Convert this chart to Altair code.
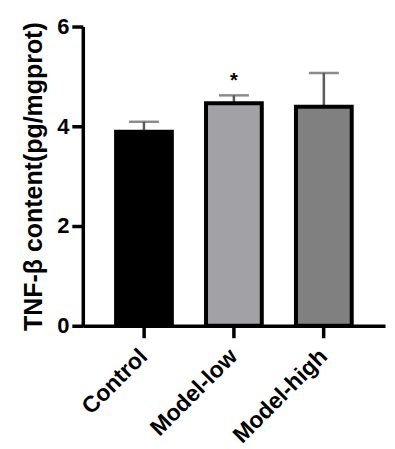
import altair as alt
import pandas as pd

groups = ["Control", "Model-low", "Model-high"]
means = [3.89, 4.46, 4.39]
err_top = [4.09, 4.62, 5.07]
fills = ["#000000", "#a2a2a6", "#808080"]
sig = ["", "*", ""]
sig_y = [0, 4.91, 0]

df = pd.DataFrame({"group": groups, "mean": means, "top": err_top,
                   "fill": fills, "sig": sig, "sig_y": sig_y})

FONT = "Liberation Sans"

x = alt.X("group:N", sort=groups, title=None,
          scale=alt.Scale(paddingInner=0.38, paddingOuter=0.37),
          axis=alt.Axis(labelAngle=-45, labelFont=FONT, labelFontSize=23,
                        labelFontWeight="bold", labelColor="black",
                        labelAlign="right", labelBaseline="top",
                        labelPadding=7, labelOffset=-8,
                        domainColor="black", domainWidth=3.5,
                        tickColor="black", tickWidth=3.5, tickSize=12))
y = alt.Y("mean:Q", title="TNF-β content(pg/mgprot)",
          scale=alt.Scale(domain=[0, 6]),
          axis=alt.Axis(values=[0, 2, 4, 6], grid=False, labelFont=FONT,
                        labelFontSize=22, labelFontWeight="bold",
                        labelColor="black", labelPadding=3,
                        titleFont=FONT, titleFontSize=25, titleFontWeight="bold",
                        titleColor="black", titlePadding=10,
                        domainColor="black", domainWidth=3.5,
                        tickColor="black", tickWidth=3.5, tickSize=11))

err = alt.Chart(df).mark_rule(color="#5a5a5a", strokeWidth=2.5).encode(
    x=x, y=alt.Y("mean:Q"), y2="top:Q")
cap = alt.Chart(df).mark_tick(color="#5a5a5a", size=30, thickness=2.5).encode(
    x=x, y=alt.Y("top:Q"))
bars = alt.Chart(df).mark_bar(stroke="black", strokeWidth=4).encode(
    x=x, y=y, fill=alt.Fill("fill:N", scale=None))
star = alt.Chart(df).mark_text(font=FONT, fontSize=20, fontWeight="bold",
                               baseline="middle", color="black").encode(
    x=x, y=alt.Y("sig_y:Q"), text="sig:N")

chart = alt.layer(err, cap, bars, star).properties(
    width=303, height=300,
    padding={"left": 13, "top": 7, "right": 2, "bottom": 2}
).configure_view(stroke=None)

chart.save("out.html", embed_options={"renderer": "svg", "actions": False})
